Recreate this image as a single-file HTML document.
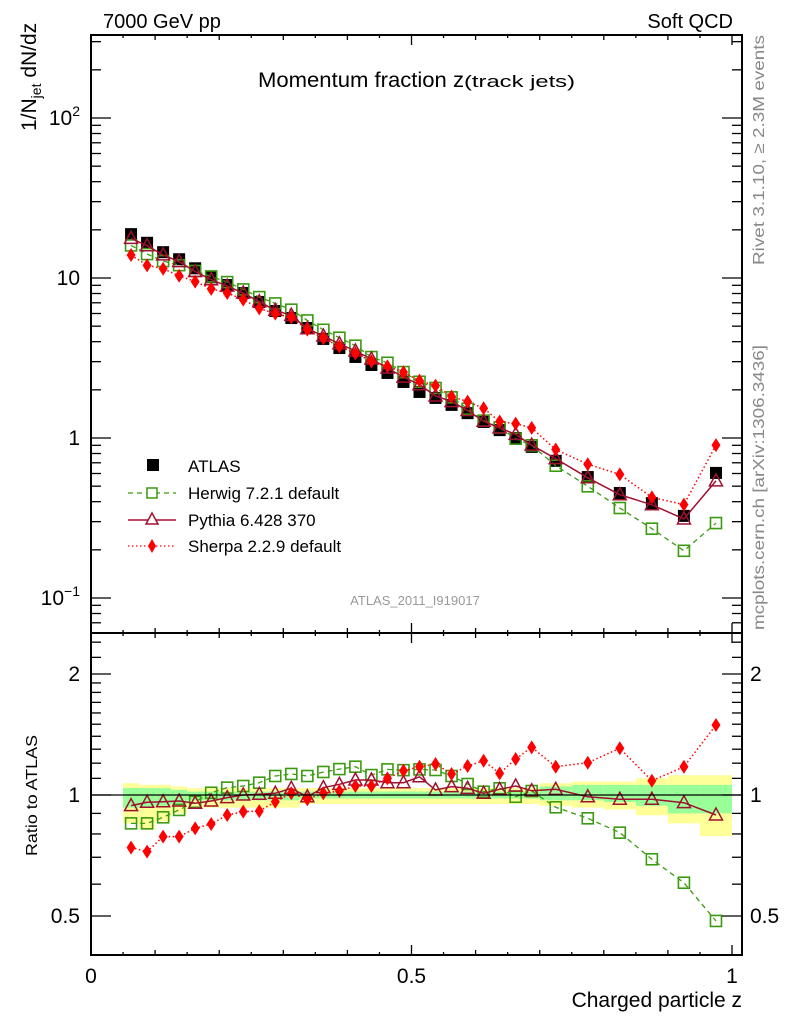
<!DOCTYPE html>
<html><head><meta charset="utf-8"><style>
html,body{margin:0;padding:0;background:#fff;}
svg{display:block;font-family:"Liberation Sans",sans-serif;}
</style></head><body>
<svg id="c" width="786" height="1024" viewBox="0 0 786 1024" xmlns="http://www.w3.org/2000/svg">
<g id="bands"></g>
<g id="marks"></g>
<g id="axes"></g>
<text x="103" y="28" font-size="20">7000 GeV pp</text>
<text x="733" y="28" font-size="20" text-anchor="end">Soft QCD</text>
<text x="258" y="87" font-size="21"><tspan textLength="206" lengthAdjust="spacingAndGlyphs">Momentum fraction z</tspan><tspan font-size="17" textLength="111" lengthAdjust="spacingAndGlyphs">(track jets)</tspan></text>
<text transform="translate(764,265) rotate(-90)" font-size="16" fill="#888" textLength="230" lengthAdjust="spacingAndGlyphs">Rivet 3.1.10, ≥ 2.3M events</text>
<text transform="translate(764,630) rotate(-90)" font-size="16" fill="#888" textLength="285" lengthAdjust="spacingAndGlyphs">mcplots.cern.ch [arXiv:1306.3436]</text>
<text transform="translate(36,131) rotate(-90)" font-size="21">1/N<tspan font-size="14" dy="5">jet</tspan><tspan dy="-5"> dN/dz</tspan></text>
<text transform="translate(37,856) rotate(-90)" font-size="16" textLength="121" lengthAdjust="spacingAndGlyphs">Ratio to ATLAS</text>
<text x="415" y="605" font-size="13" fill="#999" text-anchor="middle">ATLAS_2011_I919017</text>
<text x="742" y="1007" font-size="21" text-anchor="end">Charged particle z</text>
<g id="legend">
<rect x="147" y="459" width="12" height="12" fill="#000"/>
<text x="188" y="472" font-size="17">ATLAS</text>
<line x1="128" y1="493" x2="176" y2="493" stroke="#3a9a10" stroke-width="1.3" stroke-dasharray="5,4"/>
<rect x="147" y="488" width="10" height="10" fill="#fff" stroke="#3a9a10" stroke-width="1.5"/>
<text x="188" y="499" font-size="17">Herwig 7.2.1 default</text>
<line x1="128" y1="520" x2="176" y2="520" stroke="#a01030" stroke-width="1.5"/>
<path d="M152,513 L158,524 L146,524 Z" fill="#fff" stroke="#a01030" stroke-width="1.5"/>
<text x="188" y="526" font-size="17">Pythia 6.428 370</text>
<line x1="128" y1="546" x2="176" y2="546" stroke="#f00" stroke-width="1.3" stroke-dasharray="1.5,2.5"/>
<path d="M152,539 L156,546 L152,553 L148,546 Z" fill="#f00"/>
<text x="188" y="552" font-size="17">Sherpa 2.2.9 default</text>
</g>
</svg>
<script>
const binLo = [0.05,0.075,0.1,0.125,0.15,0.175,0.2,0.225,0.25,0.275,0.3,0.325,0.35,0.375,0.4,0.425,0.45,0.475,0.5,0.525,0.55,0.575,0.6,0.625,0.65,0.675,0.7,0.75,0.8,0.85,0.9,0.95];
const binHi = [0.075,0.1,0.125,0.15,0.175,0.2,0.225,0.25,0.275,0.3,0.325,0.35,0.375,0.4,0.425,0.45,0.475,0.5,0.525,0.55,0.575,0.6,0.625,0.65,0.675,0.7,0.75,0.8,0.85,0.9,0.95,1.0];
const atlas = [18.8,16.6,14.5,13.1,11.5,10.1,9.04,8.06,7.08,6.22,5.62,4.87,4.16,3.65,3.21,2.86,2.55,2.24,1.94,1.78,1.61,1.43,1.26,1.12,1.0,0.88,0.72,0.57,0.453,0.392,0.326,0.605];
const herwigRatio = [0.85,0.85,0.88,0.918,0.962,1.013,1.043,1.053,1.073,1.115,1.128,1.115,1.141,1.16,1.176,1.121,1.158,1.153,1.158,1.154,1.115,1.065,1.019,1.039,0.99,1.023,0.932,0.875,0.806,0.692,0.605,0.486];
const pythiaRatio = [0.941,0.959,0.962,0.966,0.954,0.966,0.985,1.0,1.004,1.01,1.039,0.99,1.043,1.063,1.09,1.09,1.073,1.073,1.11,1.029,1.049,1.039,1.01,1.033,1.053,1.025,1.033,0.99,0.976,0.976,0.957,0.892];
const sherpaRatio = [0.74,0.723,0.788,0.788,0.826,0.847,0.892,0.909,0.912,0.962,1.01,0.976,1.01,1.023,1.053,1.053,1.1,1.149,1.176,1.194,1.128,1.181,1.217,1.132,1.229,1.314,1.176,1.203,1.307,1.085,1.176,1.493];
const yellowHi = [1.07,1.06,1.06,1.05,1.04,1.04,1.04,1.04,1.04,1.04,1.04,1.04,1.04,1.04,1.04,1.04,1.04,1.04,1.04,1.04,1.04,1.04,1.04,1.04,1.04,1.04,1.07,1.08,1.08,1.10,1.12,1.12];
const yellowLo = [0.85,0.82,0.86,0.90,0.93,0.93,0.93,0.93,0.93,0.93,0.93,0.95,0.95,0.95,0.95,0.95,0.95,0.95,0.95,0.95,0.95,0.95,0.95,0.95,0.95,0.95,0.94,0.93,0.92,0.89,0.85,0.79];
const greenHi = [1.04,1.04,1.04,1.03,1.02,1.02,1.02,1.02,1.02,1.02,1.02,1.02,1.02,1.02,1.02,1.02,1.02,1.02,1.02,1.02,1.02,1.02,1.02,1.02,1.02,1.02,1.05,1.06,1.06,1.06,1.06,1.06];
const greenLo = [0.93,0.93,0.94,0.95,0.97,0.97,0.97,0.97,0.97,0.97,0.97,0.98,0.98,0.98,0.98,0.98,0.98,0.98,0.98,0.98,0.98,0.98,0.98,0.98,0.98,0.98,0.97,0.97,0.96,0.94,0.9,0.9];

const NS='http://www.w3.org/2000/svg';
const L=91,R=742,T=35,MB=633,RB=955;
const X=v=>91+v*641;
const Y=v=>438-160*Math.log10(v);
const RY=v=>795-121*Math.log2(v);
function el(tag,a,p){const e=document.createElementNS(NS,tag);for(const k in a)e.setAttribute(k,a[k]);(p||document.getElementById('marks')).appendChild(e);return e;}
const mid=binLo.map((l,i)=>(l+binHi[i])/2);
const bandsG=document.getElementById('bands');
binLo.forEach((l,i)=>{
  const y=el('rect',{x:X(l),y:RY(yellowHi[i]),width:X(binHi[i])-X(l),height:RY(yellowLo[i])-RY(yellowHi[i]),fill:'#ffff99'},bandsG);
  
  
  const g=el('rect',{x:X(l),y:RY(greenHi[i]),width:X(binHi[i])-X(l),height:RY(greenLo[i])-RY(greenHi[i]),fill:'#99ff99'},bandsG);
  
  
});
const ax=document.getElementById('axes');
el('line',{x1:L,y1:795,x2:R,y2:795,stroke:'#000','stroke-width':1.3},ax);
function series(vals,yf,color,dash,width,marker,name){
  const pts=vals.map((v,i)=>X(mid[i]).toFixed(1)+','+yf(v).toFixed(1)).join(' ');
  const pl=el('polyline',{points:pts,fill:'none',stroke:color,'stroke-width':width,'stroke-dasharray':dash});
  
  
  vals.forEach((v,i)=>{
    const x=X(mid[i]),y=yf(v);let m;
    if(marker==='fsq')m=el('rect',{x:x-6,y:y-6,width:12,height:12,fill:'#000'});
    else if(marker==='osq')m=el('rect',{x:x-5.5,y:y-5.5,width:11,height:11,fill:'none',stroke:color,'stroke-width':1.6});
    else if(marker==='tri')m=el('path',{d:`M${x},${y-7} L${x+6.5},${y+5} L${x-6.5},${y+5} Z`,fill:'none',stroke:color,'stroke-width':1.5});
    else m=el('path',{d:`M${x},${y-7} L${x+4.5},${y} L${x},${y+7} L${x-4.5},${y} Z`,fill:color});
    
    
  });
}
const herwig=atlas.map((a,i)=>a*herwigRatio[i]);
const pythia=atlas.map((a,i)=>a*pythiaRatio[i]);
const sherpa=atlas.map((a,i)=>a*sherpaRatio[i]);
series(atlas,Y,'none','',0,'fsq','atlas');
series(herwig,Y,'#3a9a10','5,4',1.3,'osq','herwig');
series(pythia,Y,'#a01030','',1.5,'tri','pythia');
series(sherpa,Y,'#f00','1.5,2.5',1.5,'dia','sherpa');
series(herwigRatio,RY,'#3a9a10','5,4',1.3,'osq','herwig-ratio');
series(pythiaRatio,RY,'#a01030','',1.5,'tri','pythia-ratio');
series(sherpaRatio,RY,'#f00','1.5,2.5',1.5,'dia','sherpa-ratio');
[[T,MB,'main-frame'],[MB,RB,'ratio-frame']].forEach(([t,b,n])=>{
  const f=el('rect',{x:L,y:t,width:R-L,height:b-t,fill:'none',stroke:'#000','stroke-width':2},ax);
  
  
});
function tk(x1,y1,x2,y2){el('line',{x1,y1,x2,y2,stroke:'#000','stroke-width':1.3},ax);}
function txt(x,y,s,anchor,size,name){const t=el('text',{x,y,'font-size':size,'text-anchor':anchor},ax);t.textContent=s;return t;}
for(let k=0;k<=20;k++){const v=k*0.05,x=X(v);const len=k%10===0?10:(k%2===0?5:3);
  [T,MB].forEach(y=>tk(x,y,x,y+len));[MB,RB].forEach(y=>tk(x,y,x,y-len));}
txt(X(0),983,'0','middle',21,'x-tick-label');txt(X(0.5),983,'0.5','middle',21,'x-tick-label');txt(X(1),983,'1','middle',21,'x-tick-label');
for(let d=-2;d<=2;d++)for(let m=1;m<10;m++){const v=m*Math.pow(10,d),y=Y(v);if(y<T||y>MB)continue;const len=m===1?20:10;tk(L,y,L+len,y);tk(R,y,R-len,y);}
txt(80,125,'10','end',21,'y-tick-label').innerHTML='10<tspan font-size="14" dy="-9">2</tspan>';
txt(80,285,'10','end',21,'y-tick-label');
txt(80,445,'1','end',21,'y-tick-label');
txt(80,605,'10','end',21,'y-tick-label').innerHTML='10<tspan font-size="14" dy="-9">−1</tspan>';
const rt=[0.4,0.5,0.6,0.7,0.8,0.9,1,1.1,1.2,1.3,1.4,1.5,1.6,1.7,1.8,1.9,2,2.2,2.4];
rt.forEach(v=>{const y=RY(v);if(y<MB||y>RB)return;const len=(v===0.5||v===1||v===2)?20:10;tk(L,y,L+len,y);tk(R,y,R-len,y);});
[[2,'2'],[1,'1'],[0.5,'0.5']].forEach(([v,s])=>{txt(80,RY(v)+7,s,'end',21,'ratio-tick-label');txt(750,RY(v)+7,s,'start',21,'ratio-tick-label-right');});
</script>
</body></html>
